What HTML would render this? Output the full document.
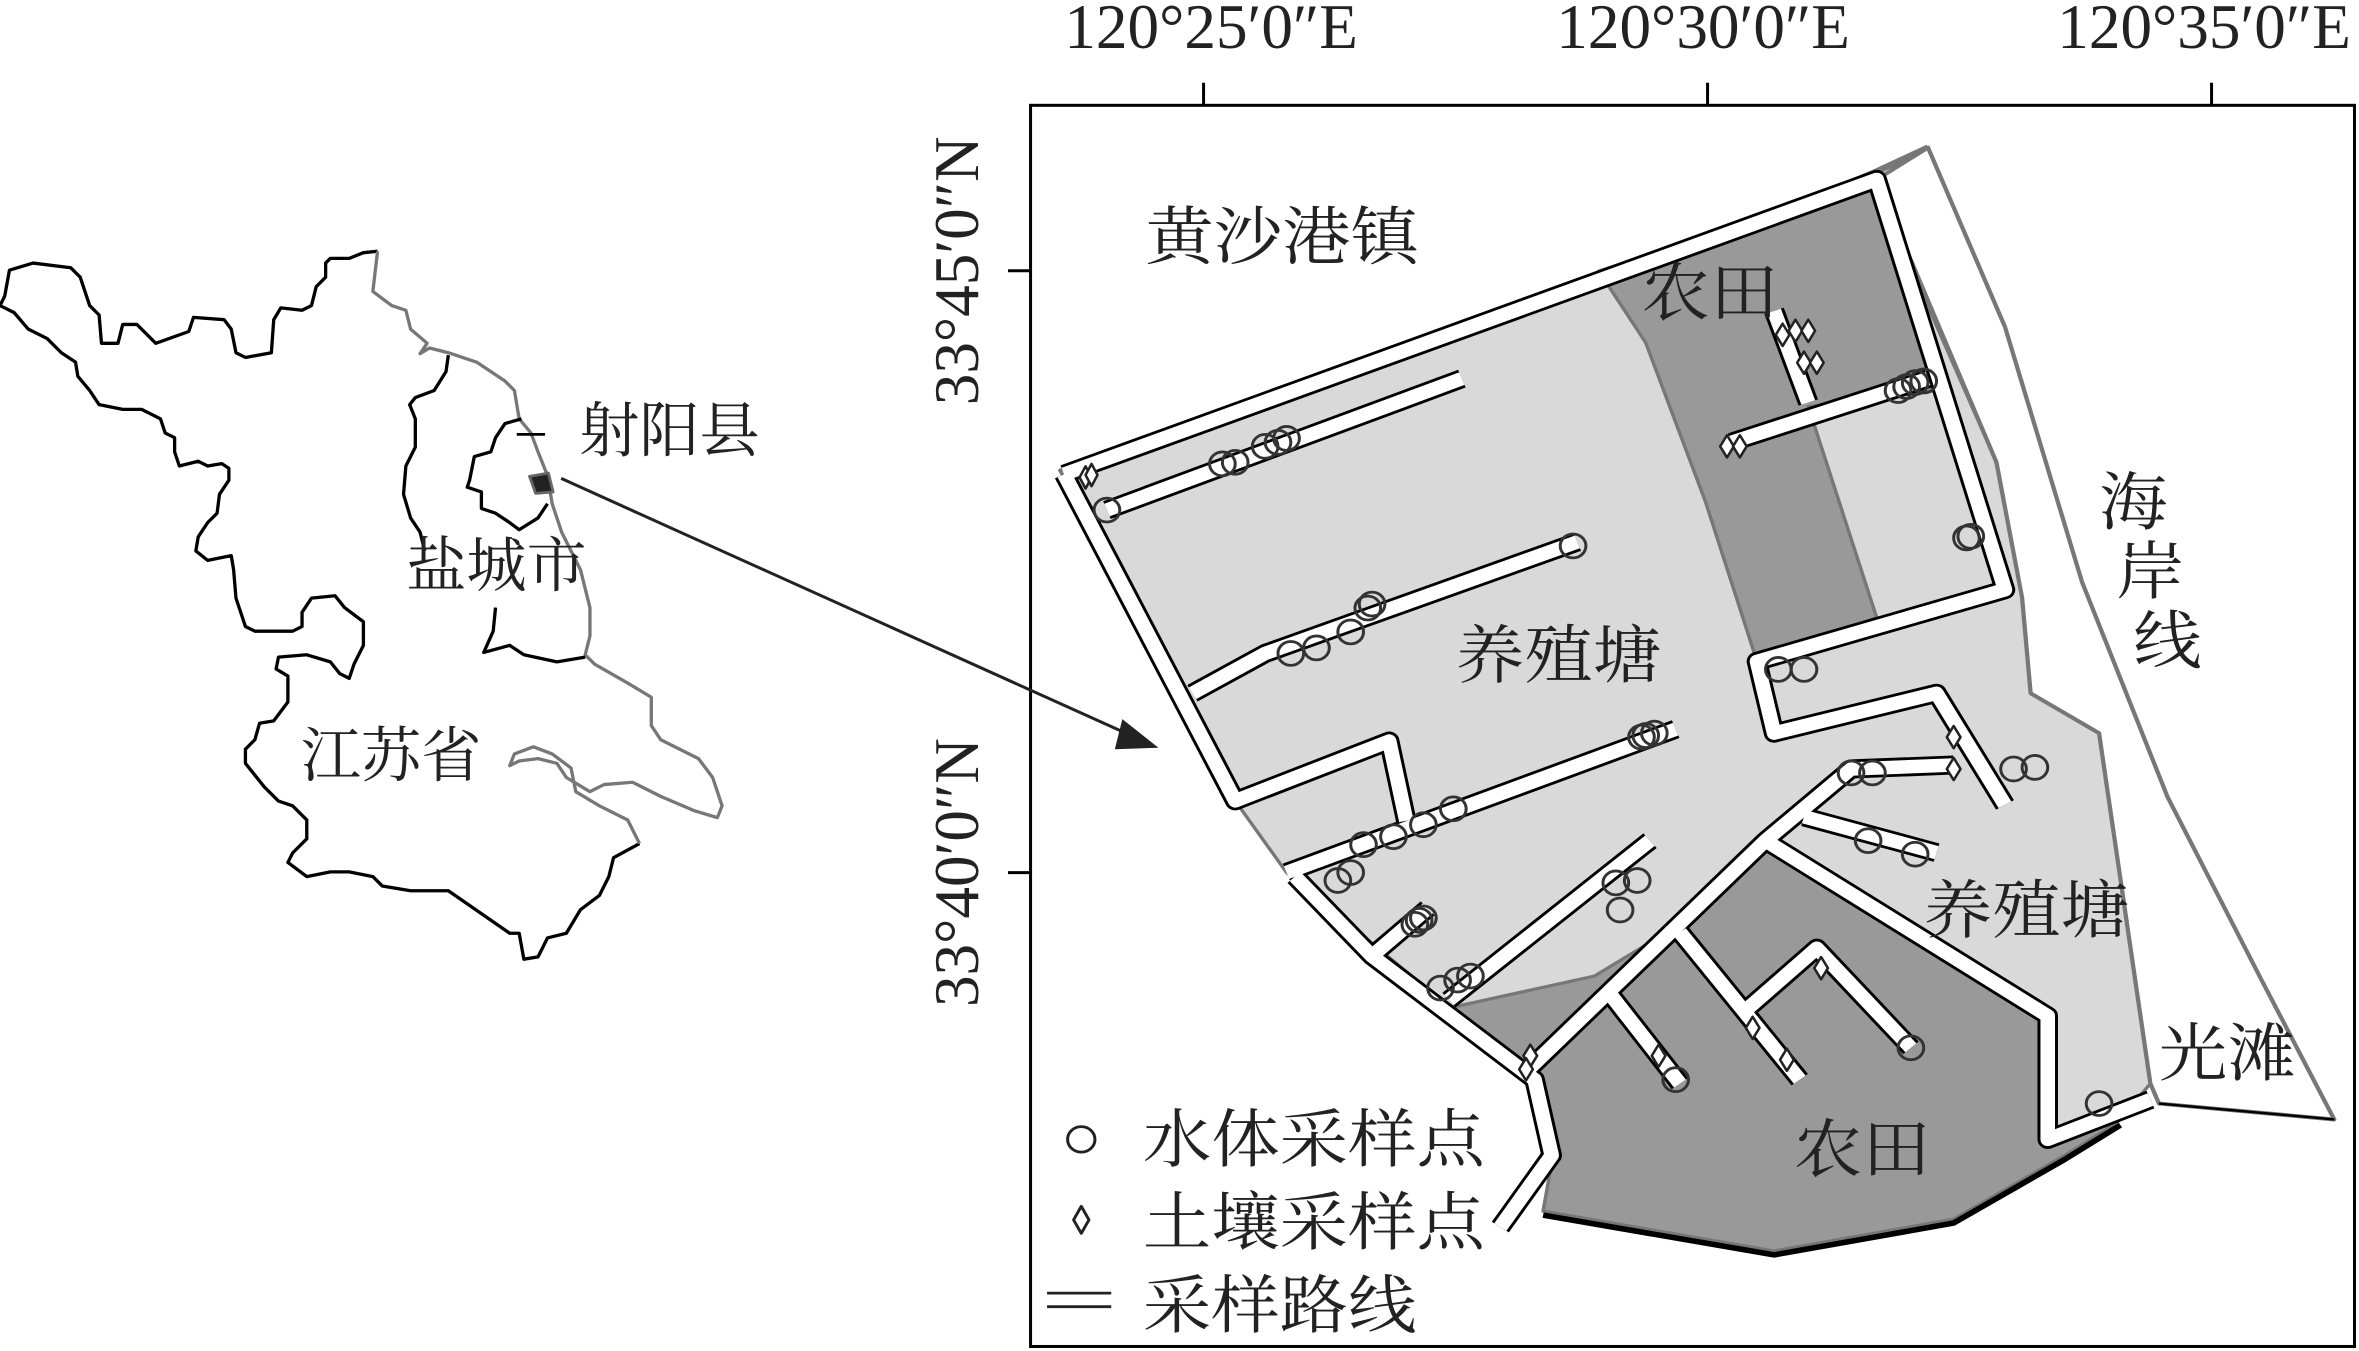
<!DOCTYPE html>
<html><head><meta charset="utf-8"><style>
html,body{margin:0;padding:0;background:#fff;overflow:hidden;}
svg{display:block;}
text{font-family:"Liberation Serif","Noto Serif CJK SC",serif;fill:#222;}
</style></head><body>
<svg width="2359" height="1351" viewBox="0 0 1568 898" preserveAspectRatio="none" xmlns="http://www.w3.org/2000/svg">
<rect width="1568" height="898" fill="#fff"/>
<rect x="685" y="70" width="880" height="825" fill="none" stroke="#000" stroke-width="2"/>
<g stroke="#000" stroke-width="2">
<line x1="800" y1="55" x2="800" y2="70"/><line x1="1135" y1="55" x2="1135" y2="70"/><line x1="1470" y1="55" x2="1470" y2="70"/>
<line x1="670" y1="180" x2="685" y2="180"/><line x1="670" y1="580" x2="685" y2="580"/>
</g>
<g font-size="42" text-anchor="middle">
<text x="805" y="32">120°25′0″E</text>
<text x="1132" y="32">120°30′0″E</text>
<text x="1465" y="32">120°35′0″E</text>
<text transform="translate(650,180) rotate(-90)">33°45′0″N</text>
<text transform="translate(650,580) rotate(-90)">33°40′0″N</text>
</g>

<g transform="translate(0,152.9) scale(0.3137)" fill="none" stroke-linejoin="round">
<path stroke="#000" stroke-width="7" d="M800,45 L770,48 L740,60 L700,60 L690,70 L690,100 L670,120 L660,160 L640,170 L595,165 L580,190 L575,260 L520,270 L500,260 L490,210 L475,190 L410,185 L400,215 L330,240 L300,210 L290,200 L260,200 L250,240 L215,240 L210,180 L190,160 L170,100 L150,80 L70,70 L20,85 L10,140 L0,160 L30,175 L60,210 L100,230 L130,260 L160,280 L165,310 L190,340 L210,370 L260,380 L300,380 L340,400 L350,430 L370,440 L370,470 L380,500 L420,490 L440,500 L470,495 L485,505 L485,530 L465,560 L460,600 L440,620 L420,650 L415,680 L440,700 L490,690 L495,720 L500,780 L520,840 L540,850 L620,850 L640,840 L640,810 L660,780 L710,775 L730,800 L770,830 L770,880 L750,920 L740,950 L720,940 L700,915 L650,900 L590,905 L585,930 L610,945 L610,1000 L580,1040 L550,1045 L540,1080 L520,1100 L520,1130 L560,1180 L590,1210 L620,1220 L650,1250 L650,1290 L620,1320 L610,1340 L650,1370 L700,1360 L740,1360 L790,1370 L810,1390 L870,1400 L950,1400 L1080,1490 L1100,1490 L1110,1545 L1140,1540 L1160,1500 L1200,1490 L1230,1440 L1270,1410 L1290,1370 L1300,1330 L1355,1300"/>
<path stroke="#777" stroke-width="7" d="M1355,1300 L1330,1250 L1270,1220 L1220,1190 L1210,1140 L1170,1110 L1130,1095 L1090,1110 L1080,1135 L1100,1125 L1140,1120 L1180,1130 L1200,1160 L1250,1190 L1280,1175 L1340,1170 L1400,1200 L1470,1230 L1520,1245 L1530,1220 L1510,1160 L1480,1120 L1400,1080 L1380,1050 L1380,990 L1330,960 L1260,920 L1240,900 L1250,860 L1250,800 L1230,720 L1190,640 L1170,580 L1160,520 L1140,470 L1125,430 L1100,400 L1090,340 L1070,320 L1010,280 L950,260 L910,250 L890,262 L905,240 L870,210 L860,170 L830,160 L790,130 L800,45"/>
<path stroke="#000" stroke-width="7" d="M950,265 L945,300 L920,340 L880,355 L868,370 L880,400 L880,460 L860,500 L855,560 L870,610 L890,640 L900,680"/>
<path stroke="#000" stroke-width="7" d="M1050,800 L1045,850 L1025,895 L1080,880 L1110,900 L1180,915 L1240,905"/>
<path stroke="#000" stroke-width="7" d="M1105,400 L1070,410 L1050,440 L1040,470 L1005,480 L995,530 L990,545 L1020,555 L1020,590 L1050,600 L1080,620 L1100,635 L1140,610 L1160,580"/>
<path d="M1122,522 L1162,515 L1172,555 L1135,558 Z" fill="#222" stroke="#666" stroke-width="6"/>
<line x1="1095" y1="433" x2="1155" y2="433" stroke="#000" stroke-width="6"/>
</g>
<line x1="373" y1="318" x2="752" y2="489" stroke="#222" stroke-width="2"/>
<polygon points="770,497 746,478 741,498" fill="#222"/>
<g font-size="40">
<text x="385" y="300">射阳县</text>
<text x="270" y="390">盐城市</text>
<text x="200" y="516">江苏省</text>
</g>

<g transform="translate(684.6,69) scale(0.5685,0.5295)" stroke-linejoin="round">
<path d="M35,475 L660,235 L990,85 L1050,55" fill="none" stroke="#777" stroke-width="8"/>
<polygon fill="#d9d9d9" stroke="#777" stroke-width="4" points="35,460 660,215 985,95 1130,450 1160,620 1170,740 1250,790 1310,1230 1270,1280 1210,1320 1080,1400 870,1440 600,1390 610,1330 600,1240 480,1125 300,965 240,875"/>
<polygon fill="#fff" stroke="#777" stroke-width="5" points="990,95 1050,55 1140,280 1230,600 1330,870 1440,1100 1525,1275 1320,1255 1310,1230 1250,790 1170,740 1160,620 1130,450"/>
<line x1="1525" y1="1275" x2="1320" y2="1255" stroke="#000" stroke-width="3"/>
<polygon fill="#999" stroke="#777" stroke-width="4" points="665,210 985,100 1060,360 910,380 990,645 850,700 790,500 720,300"/>
<polygon fill="#999" stroke="#777" stroke-width="4" points="490,1135 660,1095 760,1030 855,930 1190,1145 1195,1300 1270,1280 1210,1320 1080,1400 870,1440 600,1390 610,1330 600,1240"/>
<path d="M600,1395 L870,1445 L1080,1405 L1210,1325 L1275,1282" fill="none" stroke="#000" stroke-width="7"/>
<g fill="none" stroke-linecap="butt">
<g stroke="#000" stroke-width="24">
<path d="M40,465 L990,95 L1140,610 L850,700 L870,790 L1060,740 L1140,880"/>
<path d="M40,465 L240,875 L420,800 L440,900"/>
<path d="M90,510 L505,345"/>
<path d="M190,740 L275,690 L640,550"/>
<path d="M300,965 L755,785"/>
<path d="M310,970 L400,1070 L590,1225 L610,1320 L550,1410"/>
<path d="M405,1065 L465,1010"/>
<path d="M490,1125 L725,925"/>
<path d="M580,1215 L860,925 L960,835 L1080,830"/>
<path d="M860,925 L1190,1145 L1190,1300 L1310,1250"/>
<path d="M905,895 L1060,940"/>
<path d="M760,1040 L900,1225"/>
<path d="M680,1120 L760,1230"/>
<path d="M840,1135 L920,1060 L1030,1185"/>
<path d="M870,260 L910,375"/>
<path d="M820,425 L1050,345"/>
</g>
<g stroke="#fff" stroke-width="17">
<path d="M40,465 L990,95 L1140,610 L850,700 L870,790 L1060,740 L1140,880"/>
<path d="M40,465 L240,875 L420,800 L440,900"/>
<path d="M90,510 L505,345"/>
<path d="M190,740 L275,690 L640,550"/>
<path d="M300,965 L755,785"/>
<path d="M310,970 L400,1070 L590,1225 L610,1320 L550,1410"/>
<path d="M405,1065 L465,1010"/>
<path d="M490,1125 L725,925"/>
<path d="M580,1215 L860,925 L960,835 L1080,830"/>
<path d="M860,925 L1190,1145 L1190,1300 L1310,1250"/>
<path d="M905,895 L1060,940"/>
<path d="M760,1040 L900,1225"/>
<path d="M680,1120 L760,1230"/>
<path d="M840,1135 L920,1060 L1030,1185"/>
<path d="M870,260 L910,375"/>
<path d="M820,425 L1050,345"/>
</g>
</g>
<g fill="none" stroke="#333" stroke-width="3.5">
<circle cx="90" cy="510" r="15"/><circle cx="225" cy="452" r="15"/><circle cx="240" cy="450" r="15"/><circle cx="275" cy="430" r="15"/><circle cx="290" cy="425" r="15"/><circle cx="300" cy="420" r="15"/><circle cx="635" cy="555" r="15"/><circle cx="305" cy="690" r="15"/><circle cx="335" cy="683" r="15"/><circle cx="375" cy="663" r="15"/><circle cx="395" cy="633" r="15"/><circle cx="400" cy="628" r="15"/><circle cx="715" cy="795" r="15"/><circle cx="720" cy="793" r="15"/><circle cx="730" cy="790" r="15"/><circle cx="495" cy="885" r="15"/><circle cx="460" cy="905" r="15"/><circle cx="425" cy="920" r="15"/><circle cx="390" cy="930" r="15"/><circle cx="360" cy="975" r="15"/><circle cx="375" cy="965" r="15"/><circle cx="455" cy="1025" r="15"/><circle cx="460" cy="1022" r="15"/><circle cx="450" cy="1030" r="15"/><circle cx="685" cy="978" r="15"/><circle cx="710" cy="975" r="15"/><circle cx="690" cy="1012" r="15"/><circle cx="480" cy="1110" r="15"/><circle cx="500" cy="1100" r="15"/><circle cx="515" cy="1095" r="15"/><circle cx="875" cy="710" r="15"/><circle cx="905" cy="710" r="15"/><circle cx="960" cy="840" r="15"/><circle cx="985" cy="840" r="15"/><circle cx="980" cy="925" r="15"/><circle cx="1035" cy="942" r="15"/><circle cx="1150" cy="835" r="15"/><circle cx="1175" cy="833" r="15"/><circle cx="1015" cy="360" r="15"/><circle cx="1025" cy="355" r="15"/><circle cx="1035" cy="350" r="15"/><circle cx="1045" cy="348" r="15"/><circle cx="1095" cy="545" r="15"/><circle cx="1100" cy="543" r="15"/><circle cx="755" cy="1225" r="15"/><circle cx="1030" cy="1185" r="15"/><circle cx="1250" cy="1255" r="15"/>
</g>
<g fill="#fff" stroke="#222" stroke-width="3">
<path d="M65,455 l7,14 l-7,14 l-7,-14 Z"/><path d="M72,452 l7,14 l-7,14 l-7,-14 Z"/>
<path d="M880,276 l8,14 l-8,14 l-8,-14 Z"/><path d="M895,271 l8,14 l-8,14 l-8,-14 Z"/><path d="M910,271 l8,14 l-8,14 l-8,-14 Z"/><path d="M905,311 l8,14 l-8,14 l-8,-14 Z"/><path d="M920,311 l8,14 l-8,14 l-8,-14 Z"/>
<path d="M815,416 l8,14 l-8,14 l-8,-14 Z"/><path d="M830,416 l8,14 l-8,14 l-8,-14 Z"/>
<path d="M1080,781 l8,14 l-8,14 l-8,-14 Z"/><path d="M1080,821 l8,14 l-8,14 l-8,-14 Z"/>
<path d="M925,1071 l8,14 l-8,14 l-8,-14 Z"/><path d="M845,1146 l8,14 l-8,14 l-8,-14 Z"/><path d="M885,1186 l8,14 l-8,14 l-8,-14 Z"/><path d="M735,1181 l8,14 l-8,14 l-8,-14 Z"/><path d="M585,1181 l8,14 l-8,14 l-8,-14 Z"/><path d="M580,1198 l8,14 l-8,14 l-8,-14 Z"/>
</g>
<circle cx="60" cy="1300" r="16" fill="#fff" stroke="#222" stroke-width="3.5"/>
<path d="M60,1384 l9,17 l-9,17 l-9,-17 Z" fill="#fff" stroke="#222" stroke-width="3.5"/>
<line x1="20" y1="1493" x2="95" y2="1493" stroke="#222" stroke-width="3.5"/>
<line x1="20" y1="1510" x2="95" y2="1510" stroke="#222" stroke-width="3.5"/>
<g font-size="80">
<text x="132" y="1328">水体采样点</text>
<text x="132" y="1432">土壤采样点</text>
<text x="132" y="1536">采样路线</text>
<text x="135" y="195">黄沙港镇</text>
<text x="715" y="265">农田</text>
<text x="498" y="720">养殖塘</text>
<text x="1045" y="1040">养殖塘</text>
<text x="1320" y="1220">光滩</text>
<text x="893" y="1340">农田</text>
<text x="1250" y="528">海</text>
<text x="1270" y="615">岸</text>
<text x="1290" y="702">线</text>
</g>
</g>
</svg>
</body></html>
